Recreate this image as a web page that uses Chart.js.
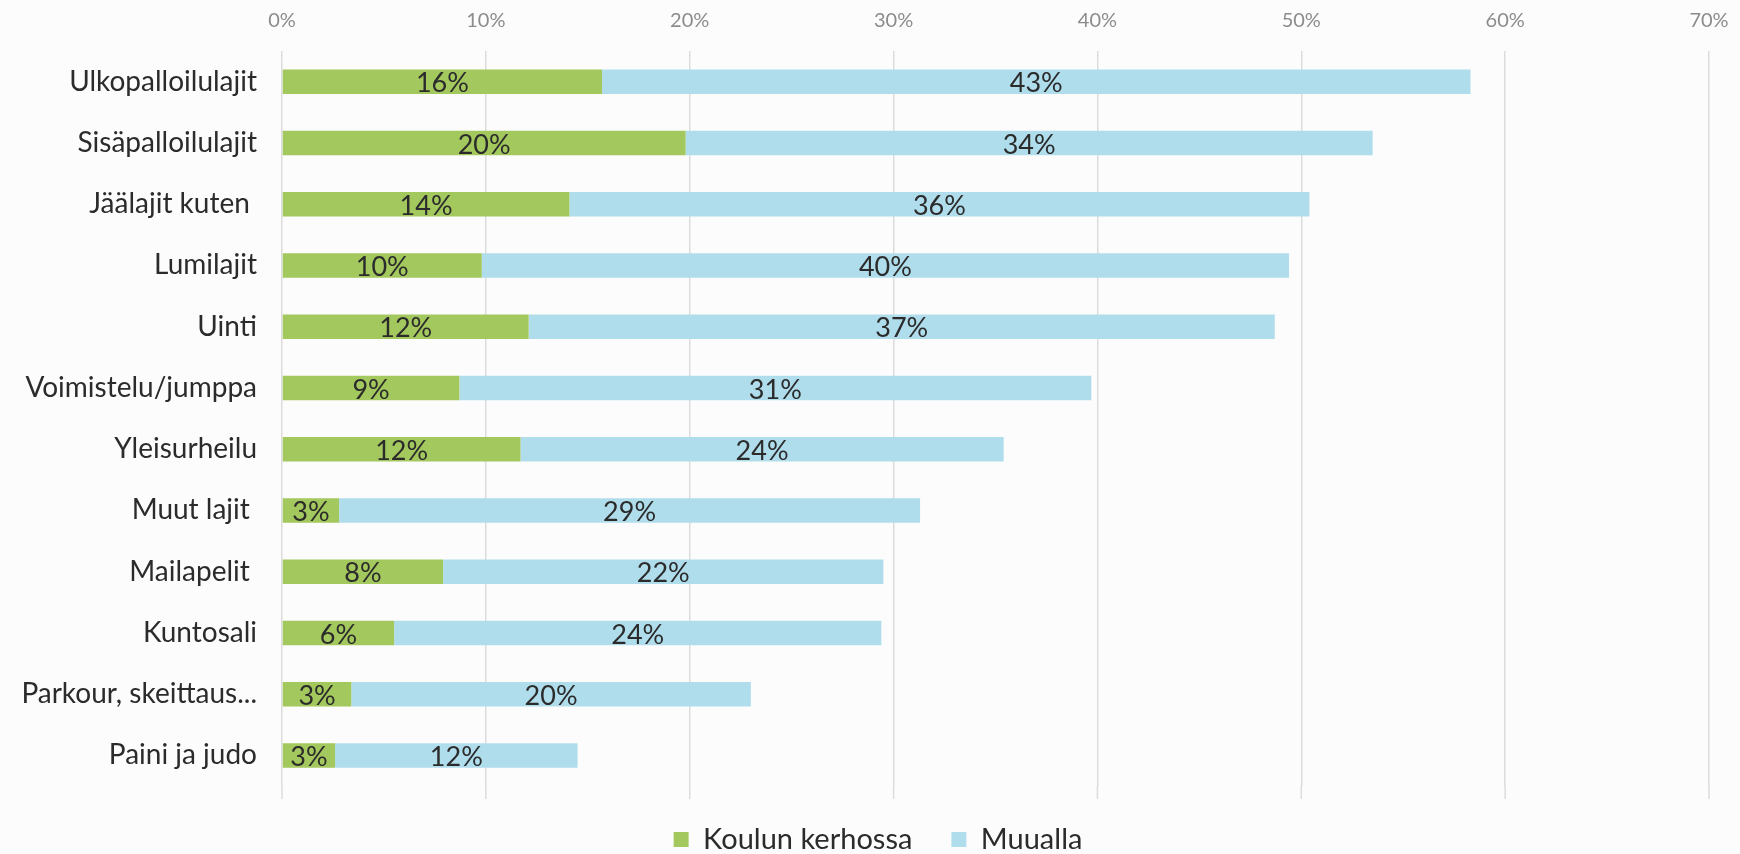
<!DOCTYPE html>
<html>
<head>
<meta charset="utf-8">
<script src="https://cdn.jsdelivr.net/npm/chart.js@4/dist/chart.umd.min.js"></script>
<style>
    html, body { margin: 0; padding: 0; background: #fcfcfc; }
    #wrap { width: 1740px; height: 854px; }
</style>
</head>
<body>
<div id="wrap"><canvas id="chartSports"></canvas></div>
<script>
//categories and values (in %)
let sportLabels = ['Ulkopalloilulajit', 'Sisäpalloilulajit', 'Jäälajit kuten ', 'Lumilajit', 'Uinti', 'Voimistelu/jumppa', 'Yleisurheilu', 'Muut lajit ', 'Mailapelit ', 'Kuntosali', 'Parkour, skeittaus...', 'Paini ja judo'];
let koulunKerhossa = [15.7, 19.8, 14.1, 9.8, 12.1, 8.7, 11.7, 2.8, 7.9, 5.5, 3.4, 2.6];
let muualla = [42.6, 33.7, 36.3, 39.6, 36.6, 31.0, 23.7, 28.5, 21.6, 23.9, 19.6, 11.9];
let xTicks = [0, 10, 20, 30, 40, 50, 60, 70];

const fontName = 'Lato, "DejaVu Sans Condensed", sans-serif';
const gridColor = '#dcdcdc';

//draw the % value in the middle of each bar segment
const barValues = {
    id: 'barValues',
    afterLayout(chart) {
        //legend sits a bit right of the canvas middle
        chart.legend.left += 47;
    },
    beforeDatasetsDraw(chart) {
        //gridlines go a little below the last bar, like in excel
        const ctx = chart.ctx;
        const area = chart.chartArea;
        const xScale = chart.scales.x;
        ctx.save();
        ctx.strokeStyle = gridColor;
        ctx.lineWidth = 1.5;
        xTicks.forEach(v => {
            const px = xScale.getPixelForValue(v);
            ctx.beginPath();
            ctx.moveTo(px, area.bottom);
            ctx.lineTo(px, area.bottom + 13);
            ctx.stroke();
        });
        ctx.restore();
    },
    afterDatasetsDraw(chart) {
        const ctx = chart.ctx;
        ctx.save();
        ctx.font = '27px ' + fontName;
        ctx.fillStyle = '#2b2b2b';
        ctx.textAlign = 'center';
        ctx.textBaseline = 'middle';
        chart.data.datasets.forEach((ds, i) => {
            chart.getDatasetMeta(i).data.forEach((bar, j) => {
                const p = bar.getCenterPoint();
                ctx.fillText(Math.round(ds.data[j]) + '%', p.x, p.y + 2);
            });
        });
        ctx.restore();
    }
};

const ctx1 = document.getElementById('chartSports').getContext('2d');
const chartSports = new Chart(ctx1, {
    type: 'bar',
    data: {
        labels: sportLabels,
        datasets: [{
            label: 'Koulun kerhossa',
            data: koulunKerhossa,
            backgroundColor: '#a3c85d',
            borderWidth: 0,
            barPercentage: 0.4,
            categoryPercentage: 1,
        }, {
            label: 'Muualla',
            data: muualla,
            backgroundColor: '#b0ddec',
            borderWidth: 0,
            barPercentage: 0.4,
            categoryPercentage: 1,
        }]
    },
    options: {
        indexAxis: 'y',
        responsive: true,
        maintainAspectRatio: false,
        animation: false,
        layout: {
            padding: { top: -9, right: 31, bottom: -10, left: 0 }
        },
        scales: {
            x: {
                position: 'top',
                stacked: true,
                min: 0,
                max: 70,
                afterBuildTicks: (scale) => {
                    scale.ticks = xTicks.map(v => ({ value: v }));
                },
                afterFit: (scale) => {
                    scale.paddingLeft = 0;
                    scale.paddingRight = 0;
                },
                ticks: {
                    callback: (v) => v + '%',
                    color: '#8c8c8c',
                    font: { family: fontName, size: 20 },
                    padding: 18,
                },
                grid: { color: gridColor, lineWidth: 1.5, drawTicks: false },
                border: { display: false },
            },
            y: {
                stacked: true,
                //left edge of the bars at 282px
                afterFit: (scale) => { scale.width = 282; },
                ticks: {
                    color: '#2b2b2b',
                    font: { family: fontName, size: 28 },
                    padding: 25,
                },
                grid: { display: false, drawTicks: false },
                border: { display: false },
            }
        },
        plugins: {
            legend: {
                position: 'bottom',
                labels: {
                    color: '#2b2b2b',
                    font: { family: fontName, size: 29 },
                    boxWidth: 15,
                    boxHeight: 15,
                    padding: 39,
                }
            },
            tooltip: { enabled: false }
        }
    },
    plugins: [barValues]
});
</script>
</body>
</html>
